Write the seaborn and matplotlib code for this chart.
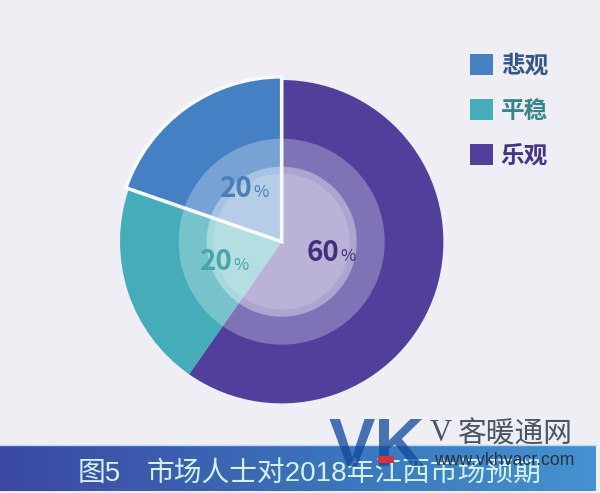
import numpy as np
import matplotlib
matplotlib.use('Agg')
import matplotlib.pyplot as plt
from matplotlib.colors import LinearSegmentedColormap
from matplotlib.patches import Patch
import seaborn as sns

# Data
categories = ['悲观', '平稳', '乐观']
shares = [19.7, 20.6, 59.7]
share_labels = ['20', '20', '60']
ring_radii = [103, 75, 68]
ring_alphas = [0.27, 0.36, 0.17]

colors = ['#4580C4', '#45ADB9', '#523F9C']
text_colors = ['#34558C', '#37858A', '#43348A']
label_colors = ['#4B7DB8', '#47A5AB', '#41307F']
bg_color = '#EFEEF4'

W, H = 600, 493
CX, CY, R = 281.7, 241.7, 161.7

sns.set_style('white')
plt.rcParams['font.family'] = ['Noto Sans CJK SC', 'DejaVu Sans']
sns.set_palette(colors)

fig = plt.figure(figsize=(W / 100, H / 100), dpi=100, facecolor=bg_color)

# Pie axes, 1 data unit = pie radius
half = 1.1 * R
ax = fig.add_axes([(CX - half) / W, (H - CY - half) / H, 2 * half / W, 2 * half / H])
ax.set_facecolor('none')

wedges, _ = ax.pie(shares, colors=sns.color_palette(), startangle=90, counterclock=True,
                   wedgeprops={'linewidth': 0, 'zorder': 1})
wedges[0].set_radius(1.02)

# Pale rings over the centre
for i, (r, a) in enumerate(zip(ring_radii, ring_alphas)):
    ax.pie([1], colors=['white'], radius=r / R,
           wedgeprops={'alpha': a, 'linewidth': 0, 'zorder': 2 + i})

# White outline of the blue slice
outline, _ = ax.pie(shares, startangle=90, counterclock=True, radius=1.02,
                    wedgeprops={'facecolor': 'none', 'edgecolor': '#F6FAFD',
                                'linewidth': 2.6, 'zorder': 6})
outline[1].set_visible(False)
outline[2].set_visible(False)

ax.set_xlim(-1.1, 1.1)
ax.set_ylim(-1.1, 1.1)

# Share labels: big number, small percent sign
label_pos = [(-29, 45), (-49, -28), (57.7, -19)]
for lab, c, (dx, dy) in zip(share_labels, label_colors, label_pos):
    ax.text(dx / R, dy / R, lab, ha='right', va='baseline', color=c, fontsize=20,
            fontweight='bold', zorder=8)
    ax.text((dx + 1) / R, dy / R, '%', ha='left', va='baseline', color=c, fontsize=12, zorder=8)

# Legend
handles = [Patch(facecolor=c, edgecolor='none') for c in colors]
fig.legend(handles, categories, loc='upper left', bbox_to_anchor=(451 / W, 1 - 35 / H),
           frameon=False, handlelength=1.0, handleheight=1.0, handletextpad=0.3,
           labelspacing=0.89, borderpad=0.3, labelcolor=text_colors,
           prop={'family': 'Noto Sans CJK SC', 'weight': 'bold', 'size': 17})

# Bottom banner with gradient
banner_top, banner_bottom, banner_right = 445, 491, 596
bax = fig.add_axes([0, 1 - banner_bottom / H, banner_right / W, (banner_bottom - banner_top) / H])
cmap = LinearSegmentedColormap.from_list('banner', ['#3A48A2', '#3C62B2', '#3A7DC2', '#4592D0'])
bax.imshow(np.linspace(0, 1, 256).reshape(1, -1), cmap=cmap, aspect='auto')
bax.axis('off')
fig.add_artist(plt.Line2D([0, banner_right / W], [1 - banner_top / H] * 2, color='#BCD8EE', lw=1))

title_font = ['Liberation Sans', 'Noto Sans CJK SC']
fig.text(78 / W, 1 - 481 / H, '图5', color='#D6F0F8', fontsize=20, family=title_font,
         va='baseline', zorder=5)
fig.text(147 / W, 1 - 481 / H, '市场人士对2018年江西市场预期', color='#D6F0F8', fontsize=20,
         family=title_font, va='baseline', zorder=5)

# Site watermark
fig.text(329 / W, 1 - 466 / H, 'VK', color='#124A9E', alpha=0.76, fontsize=50, fontweight='bold',
         family='Liberation Sans', va='baseline', zorder=6)
fig.add_artist(plt.Rectangle((378 / W, 1 - 463 / H), 16 / W, 7 / H, transform=fig.transFigure,
                             facecolor='#D8323F', edgecolor='none', zorder=7))
fig.text(430 / W, 1 - 441 / H, 'V', color='#4A5560', fontsize=22, family='Liberation Serif',
         va='baseline', zorder=6)
fig.text(458 / W, 1 - 443 / H, '客暖通网', color='#4A5560', fontsize=20.7, va='baseline', zorder=6)
fig.text(434 / W, 1 - 465 / H, 'www.vkhvacr.com', color='#26333F', fontsize=12.7,
         family='Liberation Sans', va='baseline', zorder=6)

fig.savefig('out.png', dpi=100, facecolor=bg_color)
